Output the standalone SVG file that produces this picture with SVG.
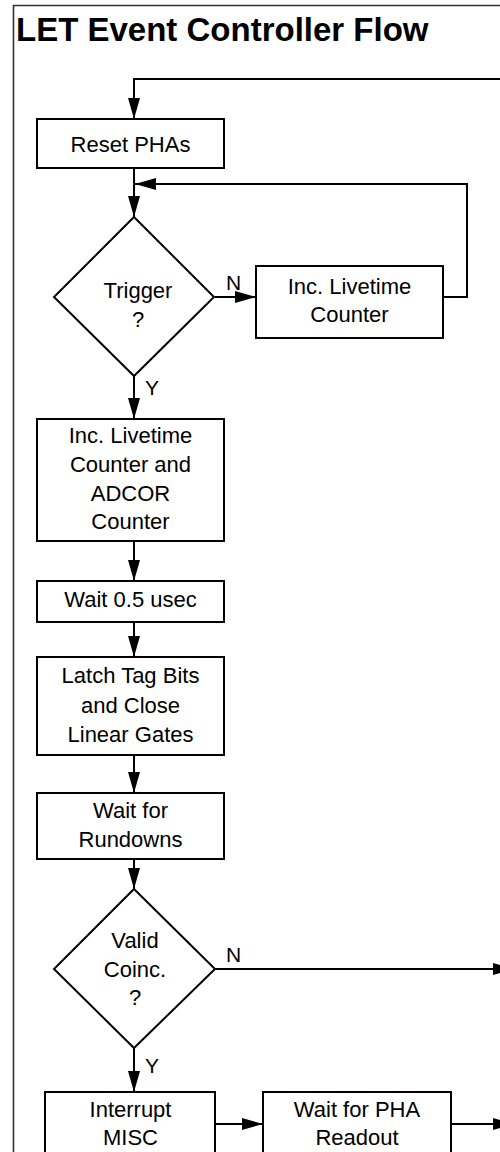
<svg xmlns="http://www.w3.org/2000/svg" width="500" height="1152" viewBox="0 0 500 1152">
<style>
.box{fill:#fff;stroke:#000;stroke-width:2}
.t{font-family:"Liberation Sans",Arial,sans-serif;font-size:22px;fill:#000;text-anchor:middle}
.lbl{font-family:"Liberation Sans",Arial,sans-serif;font-size:21px;fill:#000}
.c{fill:none;stroke:#000;stroke-width:2}
</style>
<defs>
<marker id="ah" markerUnits="userSpaceOnUse" markerWidth="21" markerHeight="12" refX="21" refY="6" orient="auto">
<path d="M0,0 L21,6 L0,12 z" fill="#000"/>
</marker>
</defs>
<rect width="500" height="1152" fill="#fff"/>
<path d="M13.5,1152 V5.5 H500" fill="none" stroke="#333" stroke-width="1.6"/>
<text x="16" y="41" font-family="'Liberation Sans',Arial,sans-serif" font-size="33" font-weight="bold" fill="#000">LET Event Controller Flow</text>

<g id="connectors">
<path class="c" d="M502,79 H134 V119" marker-end="url(#ah)"/>
<path class="c" d="M134,168 V217" marker-end="url(#ah)"/>
<path class="c" d="M443,297 H467 V184 H135" marker-end="url(#ah)"/>
<path class="c" d="M215,297 H256" marker-end="url(#ah)"/>
<path class="c" d="M134,376 V419" marker-end="url(#ah)"/>
<path class="c" d="M134,541 V581" marker-end="url(#ah)"/>
<path class="c" d="M134,622 V657" marker-end="url(#ah)"/>
<path class="c" d="M134,755 V793" marker-end="url(#ah)"/>
<path class="c" d="M134,859 V889" marker-end="url(#ah)"/>
<path class="c" d="M215,969 H514" marker-end="url(#ah)"/>
<path class="c" d="M134,1048 V1092" marker-end="url(#ah)"/>
<path class="c" d="M215,1124 H263" marker-end="url(#ah)"/>
<path class="c" d="M451,1124 H514" marker-end="url(#ah)"/>
<text class="lbl" x="226" y="290">N</text>
<text class="lbl" x="145" y="395">Y</text>
<text class="lbl" x="226" y="962">N</text>
<text class="lbl" x="145" y="1073">Y</text>
</g>

<g id="reset">
<rect class="box" x="37" y="119" width="187" height="49"/>
<text class="t" x="130.5" y="152">Reset PHAs</text>
</g>
<g id="trigger">
<polygon class="box" points="134,217 214,297 134,376 54,297"/>
<text class="t" x="138" y="298">Trigger</text>
<text class="t" x="138" y="327">?</text>
</g>
<g id="inc-livetime">
<rect class="box" x="256" y="266" width="187" height="72"/>
<text class="t" x="349.5" y="294">Inc. Livetime</text>
<text class="t" x="349.5" y="322">Counter</text>
</g>
<g id="inc-livetime-adcor">
<rect class="box" x="37" y="419" width="187" height="122"/>
<text class="t" x="130.5" y="443">Inc. Livetime</text>
<text class="t" x="130.5" y="472">Counter and</text>
<text class="t" x="130.5" y="501">ADCOR</text>
<text class="t" x="130.5" y="529">Counter</text>
</g>
<g id="wait-05">
<rect class="box" x="37" y="581" width="187" height="41"/>
<text class="t" x="130.5" y="607">Wait 0.5 usec</text>
</g>
<g id="latch">
<rect class="box" x="37" y="657" width="187" height="98"/>
<text class="t" x="130.5" y="683">Latch Tag Bits</text>
<text class="t" x="130.5" y="713">and Close</text>
<text class="t" x="130.5" y="742">Linear Gates</text>
</g>
<g id="rundowns">
<rect class="box" x="37" y="793" width="187" height="66"/>
<text class="t" x="130.5" y="818">Wait for</text>
<text class="t" x="130.5" y="847">Rundowns</text>
</g>
<g id="valid-coinc">
<polygon class="box" points="134,889 215,969 134,1048 54,969"/>
<text class="t" x="135" y="948">Valid</text>
<text class="t" x="135" y="977">Coinc.</text>
<text class="t" x="135" y="1005">?</text>
</g>
<g id="interrupt">
<rect class="box" x="45" y="1092" width="170" height="80"/>
<text class="t" x="130.5" y="1117">Interrupt</text>
<text class="t" x="130.5" y="1145">MISC</text>
</g>
<g id="wait-pha">
<rect class="box" x="263" y="1092" width="188" height="80"/>
<text class="t" x="357" y="1117">Wait for PHA</text>
<text class="t" x="357" y="1145">Readout</text>
</g>
</svg>
